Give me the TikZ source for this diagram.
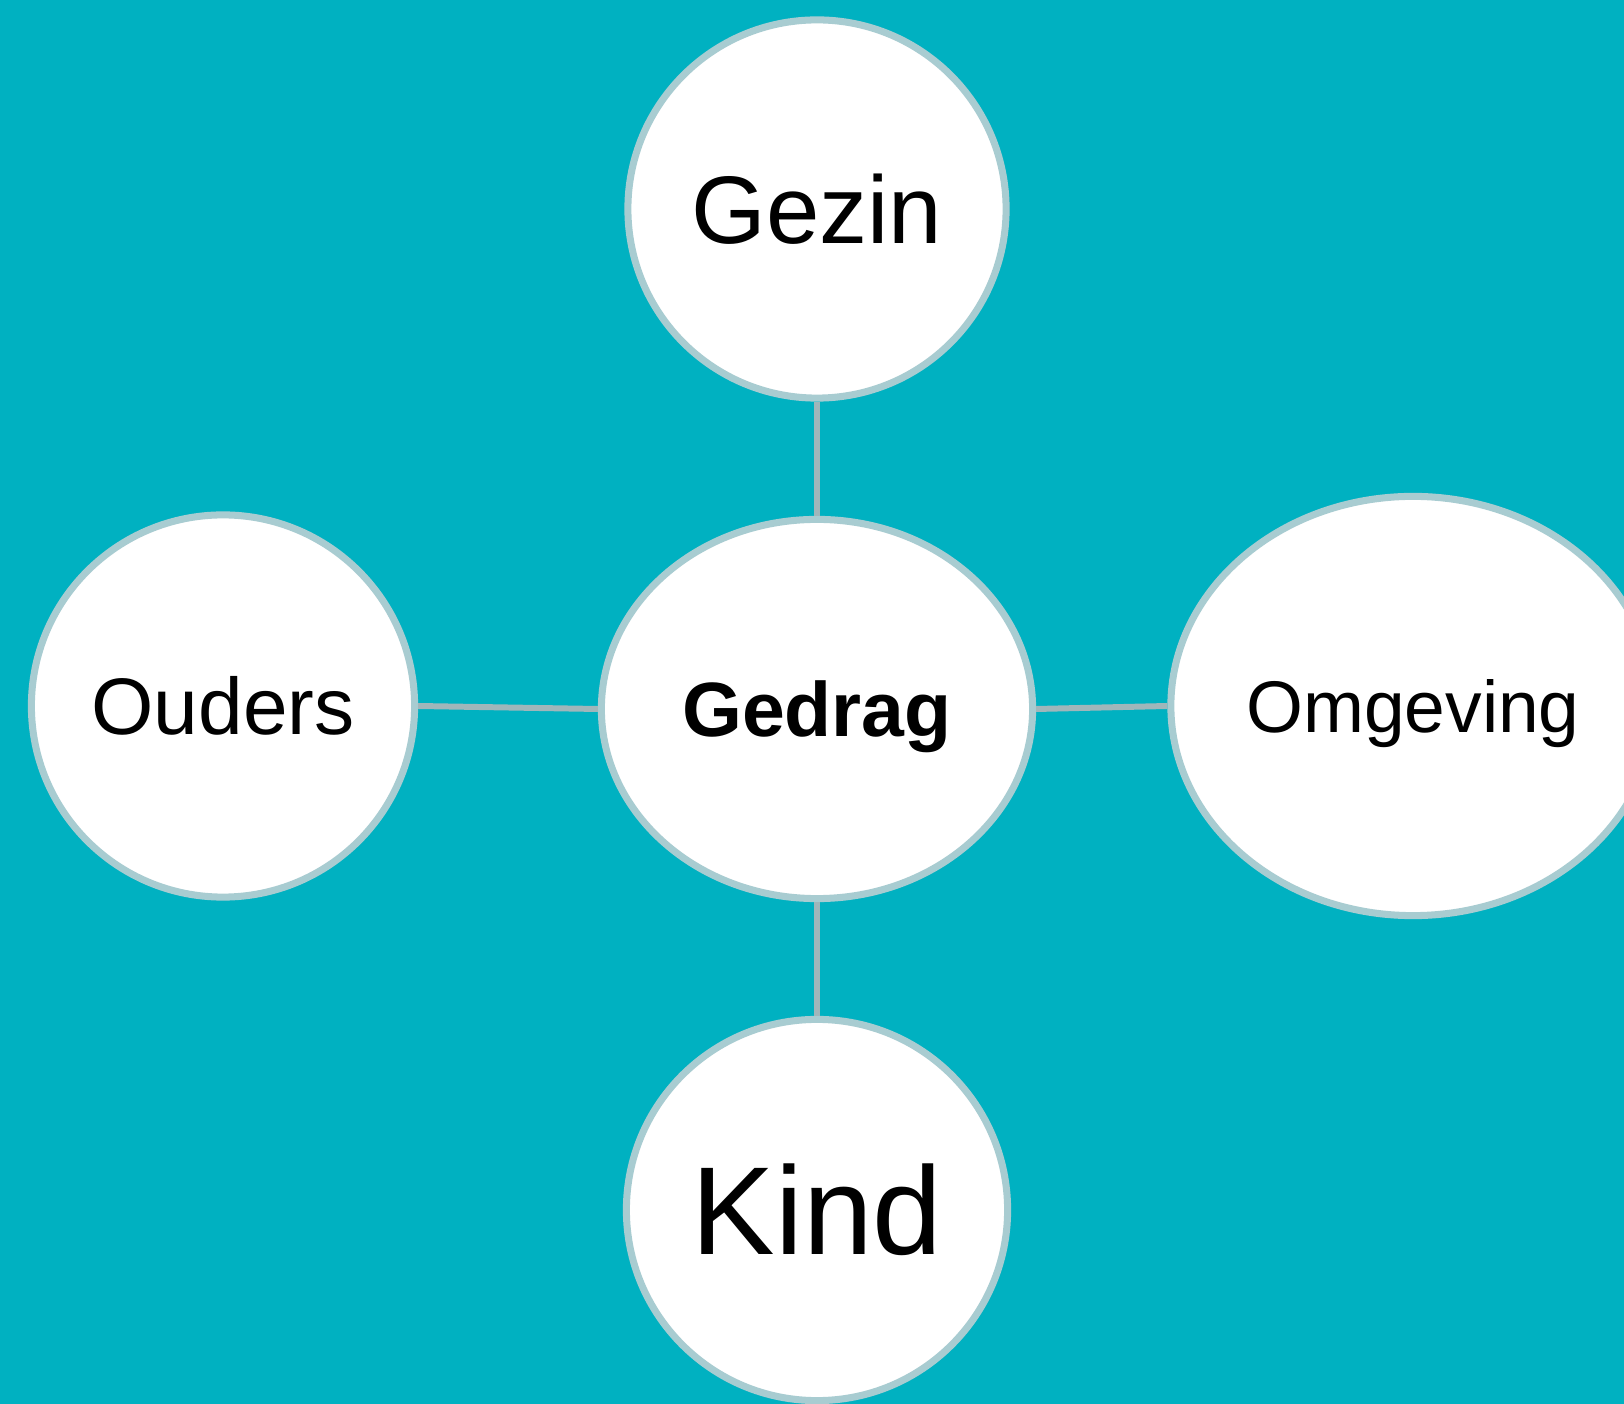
\documentclass[tikz,border=0pt]{standalone}
\usepackage{fontspec}
\setmainfont{Liberation Sans}
\usetikzlibrary{shapes.geometric}
\definecolor{bgteal}{RGB}{0,177,193}
\definecolor{ringcol}{RGB}{168,204,209}
\definecolor{linkcol}{RGB}{160,182,186}
\begin{document}
\begin{tikzpicture}[x=0.01cm,y=-0.01cm,
  bubble/.style={ellipse, draw=ringcol, line width=2pt, fill=white, inner sep=0pt,
    font=\fontsize{#1}{#1}\selectfont, text height=0.716*#1 pt, text depth=0pt, align=center},
  link/.style={draw=linkcol, line width=1.7pt}]
\clip (0,0) rectangle (1624,1404);
\fill[bgteal] (0,0) rectangle (1624,1404);
\node[bubble=27.3, minimum width=3.78cm, minimum height=3.78cm] (gezin) at (817,209) {Gezin};
\node[bubble=21.9, minimum width=4.31cm, minimum height=3.79cm] (gedrag) at (817,709) {\bfseries Gedrag};
\node[bubble=22.8, minimum width=3.83cm, minimum height=3.82cm] (ouders) at (223,706) {Ouders};
\node[bubble=20.8, minimum width=4.84cm, minimum height=4.19cm] (omgeving) at (1413,706) {Omgeving};
\node[bubble=35.6, minimum width=3.81cm, minimum height=3.81cm] (kind) at (817,1210) {Kind};
\draw[link] (gezin.south) -- (gedrag.north);
\draw[link] (gedrag.south) -- (kind.north);
\draw[link] (ouders.east) -- (gedrag.west);
\draw[link] (gedrag.east) -- (omgeving.west);
\end{tikzpicture}
\end{document}
